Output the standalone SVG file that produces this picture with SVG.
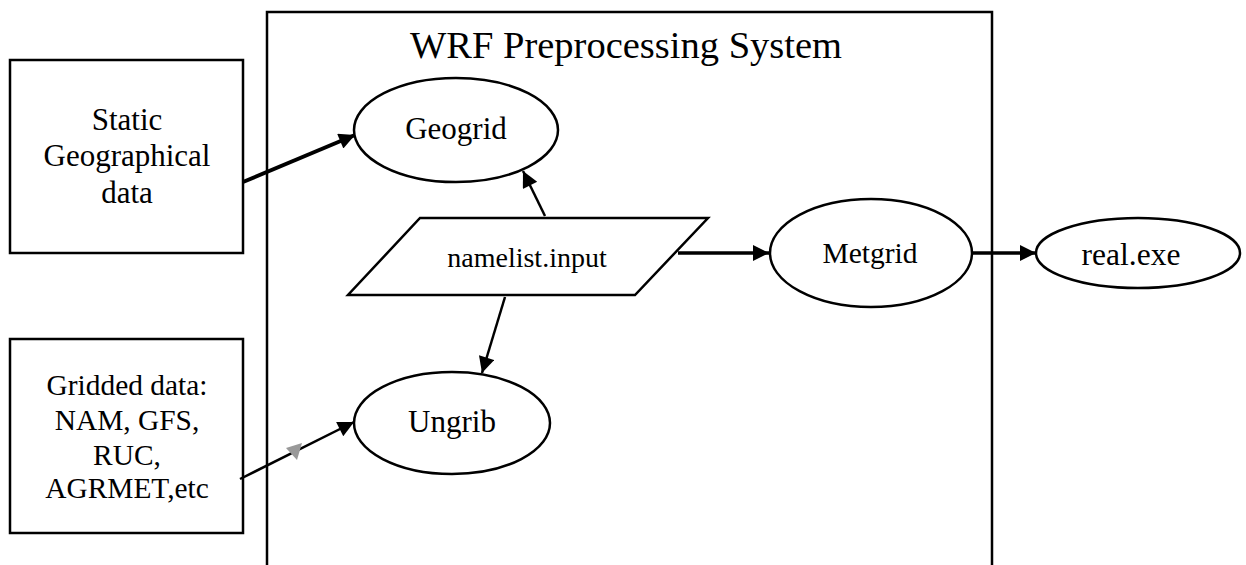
<svg xmlns="http://www.w3.org/2000/svg" width="1246" height="565" viewBox="0 0 1246 565">
  <style>
    .box { fill: #fff; stroke: #000; stroke-width: 2.5; }
    .ell { fill: #fff; stroke: #000; stroke-width: 2.5; }
    .lbl { font-family: "Liberation Serif", "Times New Roman", serif; fill: #000; text-anchor: middle; }
    .edge { fill: none; stroke: #000; }
  </style>
  <defs>
    <marker id="arrowBig" viewBox="0 0 10 10" refX="10" refY="5" markerWidth="18" markerHeight="16" markerUnits="userSpaceOnUse" orient="auto">
      <path d="M0,0 L10,5 L0,10 z" fill="#000"/>
    </marker>
  </defs>

  <rect width="1246" height="565" fill="#fff"/>

  <!-- open-bottomed frame around the preprocessing stages -->
  <g id="wps">
    <path d="M267,570 L267,12 L992,12 L992,570" class="box" fill="none"/>
    <text class="lbl" x="626" y="58" font-size="38.5">WRF Preprocessing System</text>
  </g>

  <g id="static">
    <rect x="10" y="60" width="233" height="193" class="box"/>
    <text class="lbl" x="127" y="130" font-size="31">Static</text>
    <text class="lbl" x="127" y="166" font-size="31">Geographical</text>
    <text class="lbl" x="127" y="203" font-size="31">data</text>
  </g>

  <g id="gridded">
    <rect x="10" y="339" width="233" height="194" class="box"/>
    <text class="lbl" x="127" y="395" font-size="29.4">Gridded data:</text>
    <text class="lbl" x="127" y="430" font-size="29.4">NAM, GFS,</text>
    <text class="lbl" x="127" y="465" font-size="29.4">RUC,</text>
    <text class="lbl" x="127" y="498" font-size="29.4">AGRMET,etc</text>
  </g>

  <g id="geogrid">
    <ellipse cx="456" cy="130" rx="102" ry="52" class="ell"/>
    <text class="lbl" x="456" y="139" font-size="31">Geogrid</text>
  </g>

  <g id="ungrib">
    <ellipse cx="452" cy="423" rx="98" ry="51" class="ell"/>
    <text class="lbl" x="452" y="432" font-size="31">Ungrib</text>
  </g>

  <g id="namelist">
    <polygon points="420,218 708,218 635,295 348,295" class="box"/>
    <text class="lbl" x="527" y="267" font-size="28">namelist.input</text>
  </g>

  <g id="metgrid">
    <ellipse cx="871" cy="253" rx="101" ry="54" class="ell"/>
    <text class="lbl" x="870" y="263" font-size="29.5">Metgrid</text>
  </g>

  <g id="realexe">
    <ellipse cx="1138" cy="253" rx="102" ry="35" class="ell"/>
    <text class="lbl" x="1131" y="265" font-size="31.5">real.exe</text>
  </g>

  <g id="connectors">
    <line class="edge" x1="243" y1="182" x2="355" y2="135" stroke-width="4" marker-end="url(#arrowBig)"/>
    <line class="edge" x1="545" y1="216" x2="523" y2="171" stroke-width="2.5" marker-end="url(#arrowBig)"/>
    <line class="edge" x1="505" y1="297" x2="482" y2="373" stroke-width="2.5" marker-end="url(#arrowBig)"/>
    <line class="edge" x1="678" y1="253" x2="769" y2="253" stroke-width="3.5" marker-end="url(#arrowBig)"/>
    <line class="edge" x1="972" y1="253" x2="1036" y2="253" stroke-width="3.5" marker-end="url(#arrowBig)"/>
    <line class="edge" x1="240" y1="479" x2="354" y2="422" stroke-width="2.5" marker-end="url(#arrowBig)"/>
    <path d="M302,443 L286,448 L297,460 z" fill="#999"/>
  </g>
</svg>
